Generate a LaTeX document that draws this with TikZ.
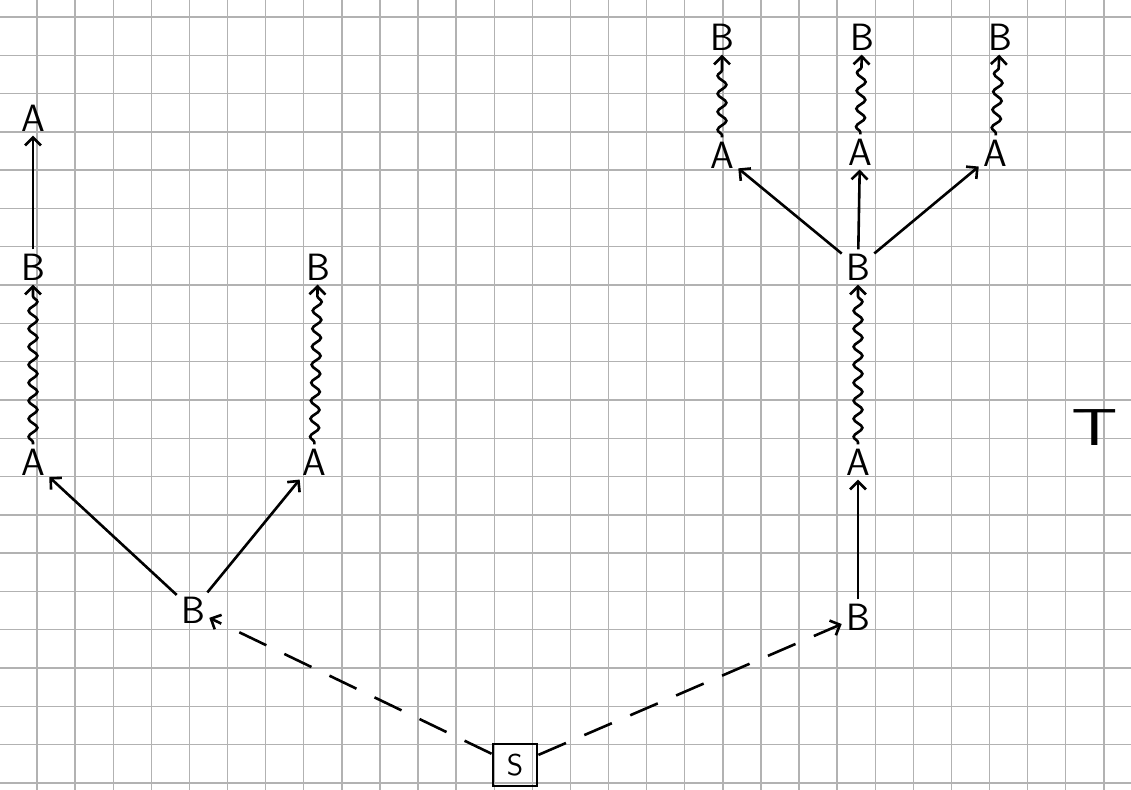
\documentclass[tikz,border=0pt]{standalone}
\usepackage{tikz}
\usetikzlibrary{arrows.meta,decorations.pathmorphing}

\begin{document}
\begin{tikzpicture}[x=0.5pt,y=-0.5pt,
    gridline/.style={draw=gray!60,line width=0.7pt},
    letter/.style={font=\sffamily\fontsize{19}{19}\selectfont,inner sep=2pt},
    edge/.style={line width=1.3pt,-{Straight Barb[length=4pt,width=8pt]}},
    wavy/.style={edge,decorate,decoration={snake,amplitude=2.2pt,segment length=9pt,pre length=1pt,post length=5pt}},
    dashedge/.style={edge,dash pattern=on 15pt off 10pt}]
  % paper
  \useasboundingbox[fill=white] (0,0) rectangle (1131,790);
  \foreach \k in {0,...,28}
    \draw[gridline] ({37+38.1*\k},0) -- ({37+38.1*\k},790);
  \foreach \k in {0,...,20}
    \draw[gridline] (0,{17+38.3*\k}) -- (1131,{17+38.3*\k});

  % start
  \node[draw,line width=1.4pt,minimum width=22pt,minimum height=21pt,inner sep=1pt,
        font=\sffamily\fontsize{15}{15}\selectfont] (s) at (515,765) {S};

  % left branch
  \node[letter] (lb) at (193,610) {B};
  \node[letter] (la1) at (33,462) {A};
  \node[letter] (lb1) at (33,267) {B};
  \node[letter] (la2) at (33,118) {A};
  \node[letter] (la3) at (314,462) {A};
  \node[letter] (lb3) at (318,267) {B};

  % right branch
  \node[letter] (rb) at (858,617) {B};
  \node[letter] (ra) at (858,462) {A};
  \node[letter] (rb1) at (858,267) {B};
  \node[letter] (ra1) at (722,155) {A};
  \node[letter] (ra2) at (860,152) {A};
  \node[letter] (ra3) at (995,153) {A};
  \node[letter] (rb2) at (722,37) {B};
  \node[letter] (rb3) at (862,37) {B};
  \node[letter] (rb4) at (1000,37) {B};

  \node[font=\sffamily\fontsize{26}{26}\selectfont] (t) at (1095,428) {\scalebox{1.4}[1]{T}};

  % dashed
  \draw[dashedge] (s) -- (lb);
  \draw[dashedge] (s) -- (rb);

  % solid
  \draw[edge] (lb) -- (la1);
  \draw[edge] (lb) -- (la3);
  \draw[edge] (lb1) -- (la2);
  \draw[edge] (rb) -- (ra);
  \draw[edge] (rb1) -- (ra1);
  \draw[edge] (rb1) -- (ra2);
  \draw[edge] (rb1) -- (ra3);

  % wavy
  \draw[wavy] (la1) -- (lb1);
  \draw[wavy] (la3) -- (lb3);
  \draw[wavy] (ra) -- (rb1);
  \draw[wavy] (ra1) -- (rb2);
  \draw[wavy] (ra2) -- (rb3);
  \draw[wavy] (ra3) -- (rb4);
\end{tikzpicture}
\end{document}
